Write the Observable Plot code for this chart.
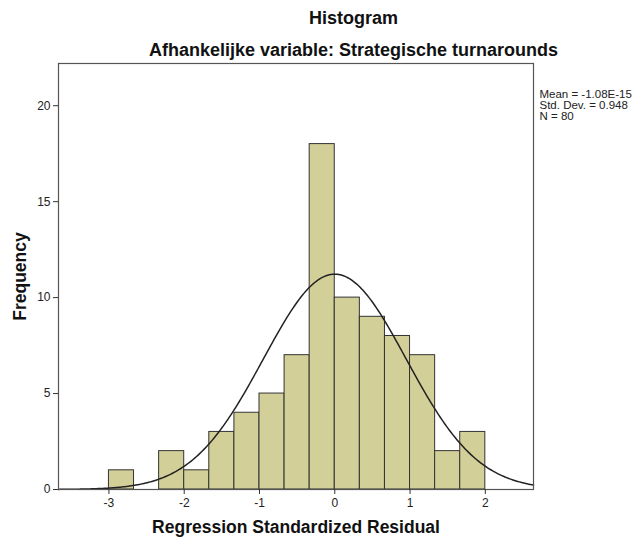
<!DOCTYPE html>
<html>
<head>
<meta charset="utf-8">
<script src="https://cdn.jsdelivr.net/npm/d3@7"></script>
<script src="https://cdn.jsdelivr.net/npm/@observablehq/plot@0.6"></script>
<style>
  html, body { margin: 0; padding: 0; background: #fff; }
  #chart svg { display: block; }
</style>
</head>
<body>
<div id="chart"></div>
<script>
// Histogram bins (lower edge, upper edge) and counts
const binStarts = [-3.0, -2.6667, -2.3333, -2.0, -1.6667, -1.3333, -1.0, -0.6667, -0.3333, 0.0, 0.3333, 0.6667, 1.0, 1.3333, 1.6667];
const binEnds   = [-2.6667, -2.3333, -2.0, -1.6667, -1.3333, -1.0, -0.6667, -0.3333, 0.0, 0.3333, 0.6667, 1.0, 1.3333, 1.6667, 2.0];
const counts    = [1, 0, 2, 1, 3, 4, 5, 7, 18, 10, 9, 8, 7, 2, 3];

const xTicks = [-3, -2, -1, 0, 1, 2];
const yTicks = [0, 5, 10, 15, 20];

const statMean = -1.08e-15;
const statSD = 0.948;
const statN = 80;
const statLines = ["Mean = -1.08E-15", "Std. Dev. = 0.948", "N = 80"];

const title = "Histogram";
const subtitle = "Afhankelijke variable: Strategische turnarounds";
const xLabel = "Regression Standardized Residual";
const yLabel = "Frequency";

const bars = binStarts.map((s, i) => ({x1: s, x2: binEnds[i], count: counts[i]})).filter(d => d.count > 0);

// Fitted normal curve (SPSS overlay) from the reported mean, sd and N
const binWidth = 1 / 3;
const xDomain = [-3.67, 2.64];
const curve = d3.range(0, 301).map(i => {
  const x = xDomain[0] + (xDomain[1] - xDomain[0]) * i / 300;
  const z = (x - statMean) / statSD;
  return {x, y: statN * binWidth * Math.exp(-0.5 * z * z) / (statSD * Math.sqrt(2 * Math.PI))};
});

const font = "'Liberation Sans', Arial, sans-serif";
const fill = "#d3cf98";

const chart = Plot.plot({
  width: 640,
  height: 542,
  marginLeft: 58,
  marginRight: 107,
  marginTop: 63,
  marginBottom: 53,
  style: {fontFamily: font, fontSize: "12px", color: "#222", background: "#fff"},
  x: {domain: xDomain},
  y: {domain: [0, 22.2]},
  marks: [
    Plot.rect(bars, {x1: "x1", x2: "x2", y1: 0, y2: "count", fill: fill, stroke: "#333", strokeWidth: 1}),
    Plot.line(curve, {x: "x", y: "y", stroke: "#222", strokeWidth: 1.5}),
    Plot.frame({stroke: "#555", strokeWidth: 1.2}),
    Plot.axisX({ticks: xTicks, tickSize: 5, tickPadding: 4, tickFormat: d => d, label: null, fontSize: 12, stroke: "#333"}),
    Plot.axisY({ticks: yTicks, tickSize: 5, tickPadding: 3, label: null, fontSize: 12, stroke: "#333"}),
    Plot.text([title], {frameAnchor: "top-left", dx: 295, dy: -45, text: d => d, fontSize: 18, fontWeight: "bold", textAnchor: "middle", lineAnchor: "middle", fill: "#111"}),
    Plot.text([subtitle], {frameAnchor: "top-left", dx: 295, dy: -13, text: d => d, fontSize: 18, fontWeight: "bold", textAnchor: "middle", lineAnchor: "middle", fill: "#111"}),
    Plot.text([xLabel], {frameAnchor: "bottom", dy: 38, text: d => d, fontSize: 17.5, fontWeight: "bold", lineAnchor: "middle", fill: "#111"}),
    Plot.text([yLabel], {frameAnchor: "left", dx: -38, text: d => d, fontSize: 17.5, fontWeight: "bold", rotate: -90, textAnchor: "middle", lineAnchor: "middle", fill: "#111"}),
    Plot.text([statLines.join("\n")], {frameAnchor: "top-right", dx: 6, dy: 27, text: d => d, textAnchor: "start", lineAnchor: "top", lineHeight: 0.95, fontSize: 11.5, fill: "#222"}),
  ]
});
document.getElementById("chart").appendChild(chart);
</script>
</body>
</html>
